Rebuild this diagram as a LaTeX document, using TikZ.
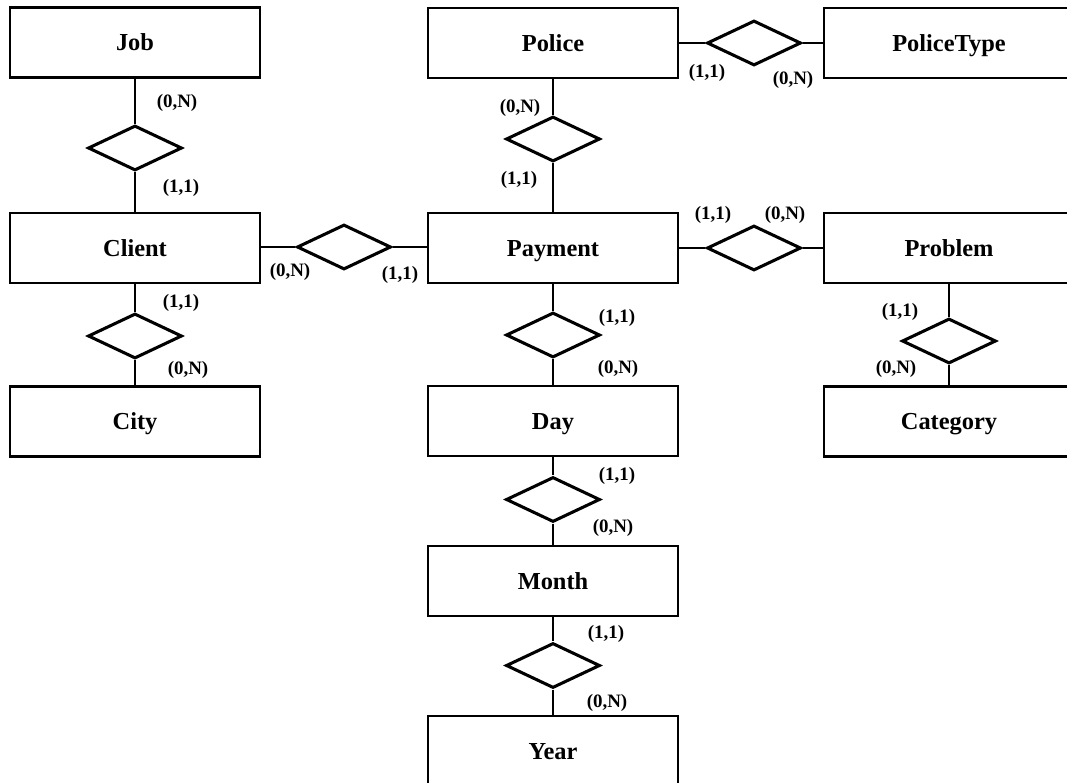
\documentclass[tikz,border=0pt]{standalone}
\usepackage{fontspec}
\setmainfont{Liberation Serif}
\usetikzlibrary{shapes.geometric}
\tikzset{
  entity/.style={draw, line width=1.6pt, rectangle, minimum width=187.5pt, minimum height=52.5pt, inner sep=0pt, text height=13pt, text depth=0.6pt, font=\fontsize{18.3}{20}\selectfont\bfseries},
  rel/.style={draw, line width=2.3pt, diamond, minimum width=70.5pt, minimum height=33.75pt, inner sep=0pt},
  conn/.style={line width=1.5pt},
  card/.style={inner sep=0pt, font=\fontsize{14.2}{16}\selectfont\bfseries}
}
\begin{document}
\begin{tikzpicture}[x=0.75pt, y=-0.75pt]
\useasboundingbox (0,0) rectangle (1067,782);
\clip (0,0) rectangle (1067,782);
% entities
\node[entity] (job) at (135,42.5) {Job};
\node[entity] (police) at (553,43) {Police};
\node[entity] (ptype) at (949,43) {PoliceType};
\node[entity] (client) at (135,248) {Client};
\node[entity] (payment) at (553,248) {Payment};
\node[entity] (problem) at (949,248) {Problem};
\node[entity] (city) at (135,421.5) {City};
\node[entity] (day) at (553,421) {Day};
\node[entity] (category) at (949,421.5) {Category};
\node[entity] (month) at (553,581) {Month};
\node[entity] (year) at (553,751) {Year};
% relationships
\node[rel] (rjc) at (135,148) {};
\node[rel] (rcc) at (135,336) {};
\node[rel] (rpp) at (553,139) {};
\node[rel] (rpt) at (754,43) {};
\node[rel] (rcp) at (344,247) {};
\node[rel] (rpr) at (754,248) {};
\node[rel] (rpc) at (949,341) {};
\node[rel] (rpd) at (553,335) {};
\node[rel] (rdm) at (553,499.5) {};
\node[rel] (rmy) at (553,665.5) {};
% connectors
\draw[conn] (job) -- (rjc) -- (client);
\draw[conn] (client) -- (rcc) -- (city);
\draw[conn] (police) -- (rpp) -- (payment);
\draw[conn] (police.east |- rpt) -- (rpt) -- (ptype.west |- rpt);
\draw[conn] (client.east |- rcp) -- (rcp) -- (payment.west |- rcp);
\draw[conn] (payment) -- (rpr) -- (problem);
\draw[conn] (problem) -- (rpc) -- (category);
\draw[conn] (payment) -- (rpd) -- (day);
\draw[conn] (day) -- (rdm) -- (month);
\draw[conn] (month) -- (rmy) -- (year);
% cardinalities
\node[card] (c1) at (177,103) {(0,N)};
\node[card] (c2) at (181,188) {(1,1)};
\node[card] (c3) at (181,303) {(1,1)};
\node[card] (c4) at (188,370) {(0,N)};
\node[card] (c5) at (520,108) {(0,N)};
\node[card] (c6) at (519,180) {(1,1)};
\node[card] (c7) at (707,73) {(1,1)};
\node[card] (c8) at (793,80) {(0,N)};
\node[card] (c9) at (290,272) {(0,N)};
\node[card] (c10) at (400,275) {(1,1)};
\node[card] (c11) at (713,215) {(1,1)};
\node[card] (c12) at (785,215) {(0,N)};
\node[card] (c13) at (900,312) {(1,1)};
\node[card] (c14) at (896,369) {(0,N)};
\node[card] (c15) at (617,318) {(1,1)};
\node[card] (c16) at (618,369) {(0,N)};
\node[card] (c17) at (617,476) {(1,1)};
\node[card] (c18) at (613,528) {(0,N)};
\node[card] (c19) at (606,634) {(1,1)};
\node[card] (c20) at (607,703) {(0,N)};
\end{tikzpicture}
\end{document}
